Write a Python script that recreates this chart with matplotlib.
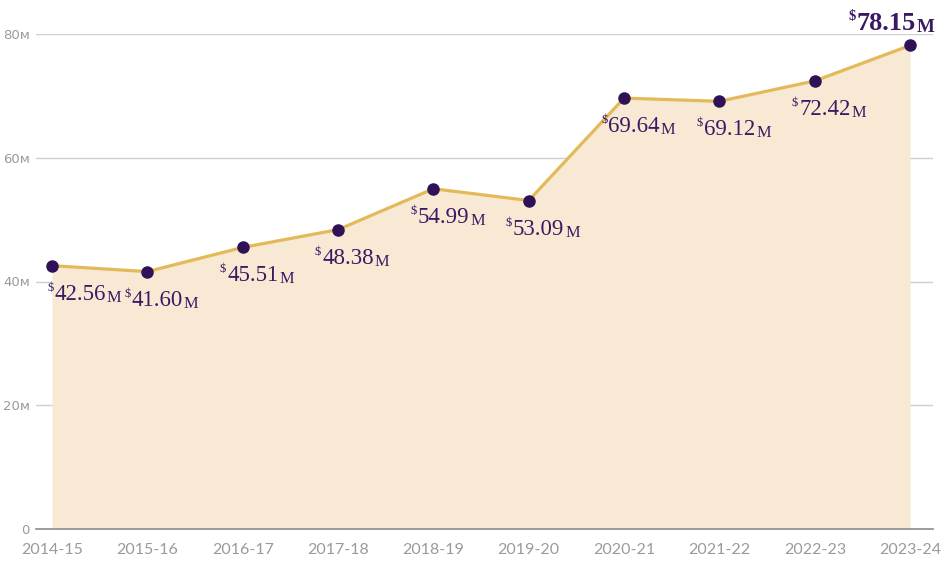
import matplotlib.pyplot as plt

years = ['2014-15', '2015-16', '2016-17', '2017-18', '2018-19',
         '2019-20', '2020-21', '2021-22', '2022-23', '2023-24']
revenue = [42.56, 41.60, 45.51, 48.38, 54.99, 53.09, 69.64, 69.12, 72.42, 78.15]
yticks = [0, 20, 40, 60, 80]
ytick_labels = ['0', '20ᴍ', '40ᴍ', '60ᴍ', '80ᴍ']

purple = '#3a1a63'
dot = '#2f1158'
gold = '#e4b95a'
fill = '#f7e9d3'
grey = '#9a9a9a'
sans = ['Lato', 'DejaVu Sans']
serif = ['Liberation Serif', 'DejaVu Serif']

fig = plt.figure(figsize=(9.42, 5.69), dpi=100)
ax = fig.add_axes([36 / 942, 1 - 529 / 569, 897 / 942, 495 / 569])

x = list(range(len(years)))
ax.fill_between(x, revenue, 0, color=fill, lw=0, zorder=1)
ax.plot(x, revenue, color=gold, lw=2.3, zorder=2)
ax.plot(x, revenue, 'o', color=dot, ms=8, zorder=3)

ax.set_xlim(-0.168, 9.24)
ax.set_ylim(0, 80)
ax.set_axisbelow(True)
ax.yaxis.grid(True, color='#cfcfcf', lw=1)
ax.axhline(0, color='#8c8c8c', lw=1.2, zorder=4, clip_on=False)
for s in ax.spines.values():
    s.set_visible(False)

ax.set_xticks(x)
ax.set_xticklabels(years, family=sans, fontsize=11.5, color=grey)
ax.set_yticks(yticks)
ax.set_yticklabels(ytick_labels, family=['DejaVu Sans'], fontsize=9.5, color=grey)
ax.tick_params(axis='x', length=0, pad=10)
ax.tick_params(axis='y', length=0, pad=4.5)


def money_label(xi, yi, dx, dy, size, weight='normal'):
    num = ax.annotate(f'{yi:.2f}', (xi, yi), xytext=(dx, dy),
                      textcoords='offset pixels', ha='center', va='baseline',
                      fontsize=size, family=serif, color=purple,
                      weight=weight, zorder=5, annotation_clip=False)
    ax.annotate('$', (0, 1), xycoords=num, xytext=(-1, 2),
                textcoords='offset pixels', ha='right', va='top',
                fontsize=size * 0.55, family=serif, color=purple, weight=weight)
    ax.annotate('M', (1, 0), xycoords=num, xytext=(1, -1),
                textcoords='offset pixels', ha='left', va='bottom',
                fontsize=size * 0.72, family=serif, color=purple, weight=weight)


for i, v in enumerate(revenue[:-1]):
    dx = 28 if i == 0 else 10
    money_label(i, v, dx, -34, 16.5)
money_label(x[-1], revenue[-1], -24, 15, 19, weight='bold')

fig.savefig('out.png', dpi=100)
